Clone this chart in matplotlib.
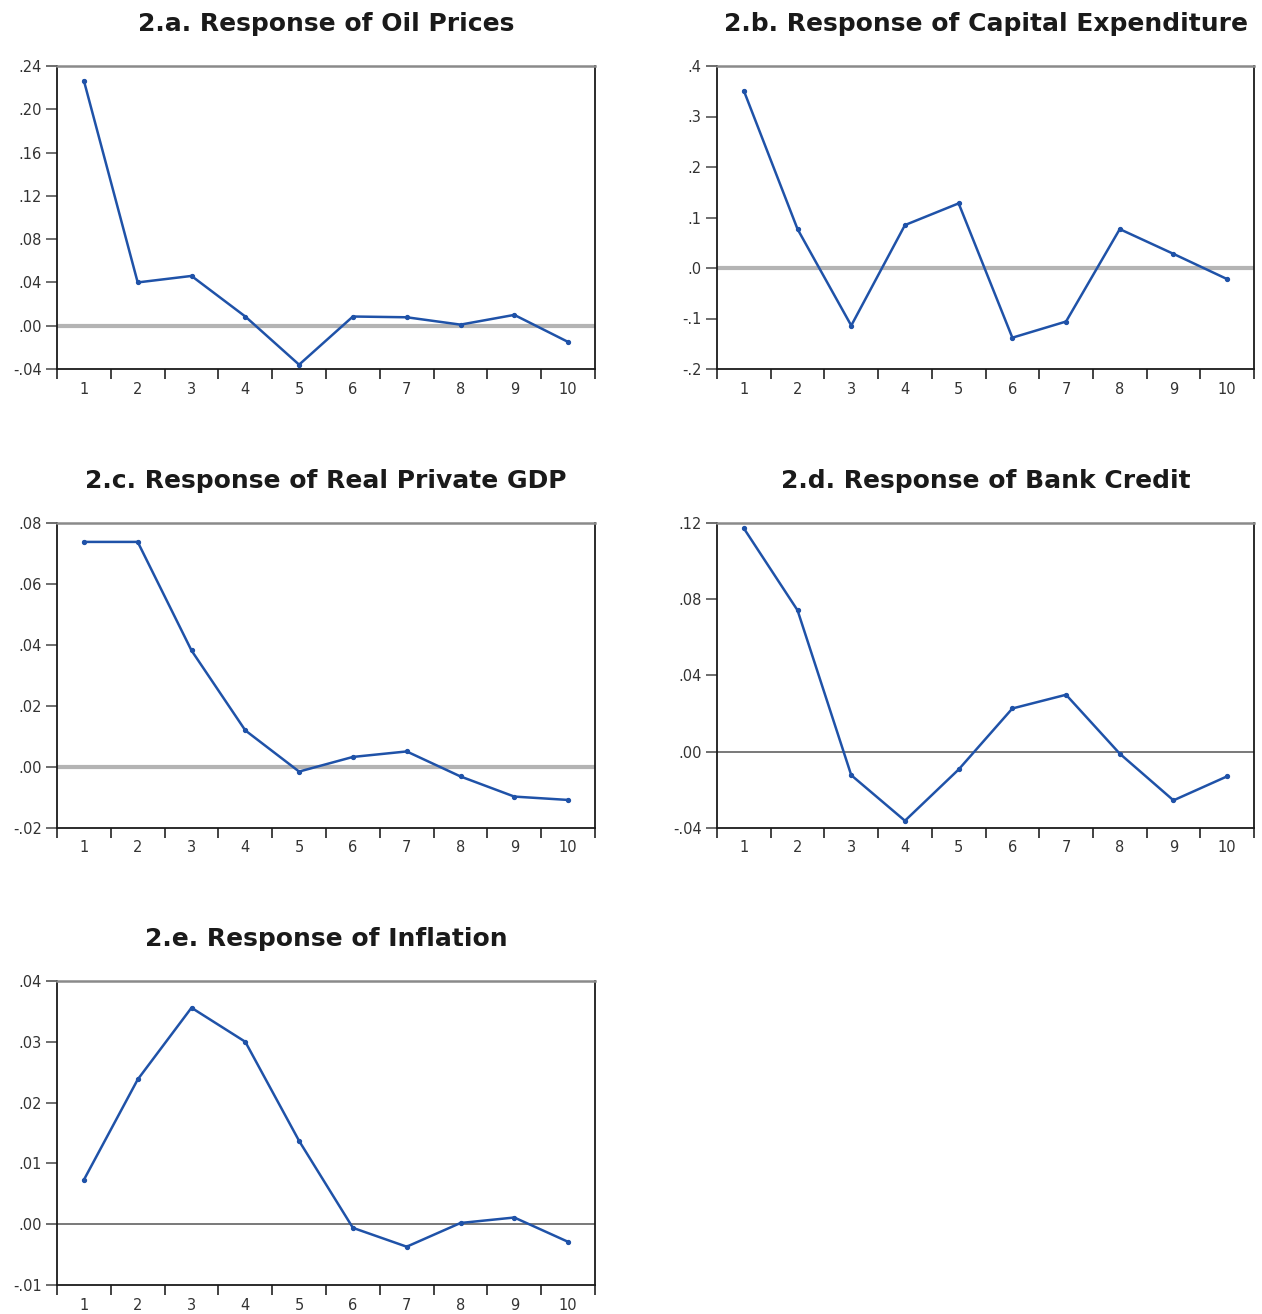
import numpy as np
import matplotlib
matplotlib.use('Agg')
import matplotlib.pyplot as plt
from matplotlib.ticker import FixedLocator

plt.rcParams['font.family'] = ['DejaVu Sans']

periods = [1, 2, 3, 4, 5, 6, 7, 8, 9, 10]

# impulse responses
oil_prices = [0.2264, 0.040, 0.046, 0.0085, -0.036, 0.0085, 0.0078, 0.001, 0.010, -0.015]
capital_exp = [0.351, 0.077, -0.114, 0.085, 0.128, -0.138, -0.106, 0.077, 0.028, -0.022]
private_gdp = [0.0738, 0.0738, 0.0382, 0.0120, -0.0015, 0.0033, 0.0051, -0.0031, -0.0097, -0.0108]
bank_credit = [0.1172, 0.0742, -0.0123, -0.0362, -0.0093, 0.0227, 0.0299, -0.0010, -0.0255, -0.0129]
inflation = [0.0073, 0.0238, 0.0356, 0.0300, 0.0137, -0.0006, -0.0037, 0.0002, 0.0011, -0.0029]

titles = ['2.a. Response of Oil Prices', '2.b. Response of Capital Expenditure',
          '2.c. Response of Real Private GDP', '2.d. Response of Bank Credit',
          '2.e. Response of Inflation']

yticks_a = [-0.04, 0.00, 0.04, 0.08, 0.12, 0.16, 0.20, 0.24]
ylabels_a = ['-.04', '.00', '.04', '.08', '.12', '.16', '.20', '.24']
yticks_b = [-0.2, -0.1, 0.0, 0.1, 0.2, 0.3, 0.4]
ylabels_b = ['-.2', '-.1', '.0', '.1', '.2', '.3', '.4']
yticks_c = [-0.02, 0.00, 0.02, 0.04, 0.06, 0.08]
ylabels_c = ['-.02', '.00', '.02', '.04', '.06', '.08']
yticks_d = [-0.04, 0.00, 0.04, 0.08, 0.12]
ylabels_d = ['-.04', '.00', '.04', '.08', '.12']
yticks_e = [-0.01, 0.00, 0.01, 0.02, 0.03, 0.04]
ylabels_e = ['-.01', '.00', '.01', '.02', '.03', '.04']

line_col = '#1f52a8'

fig = plt.figure(figsize=(12.62, 13.14), dpi=100)

W = 1262.0
H = 1314.0
def box(x0, y0, x1, y1):
    return [x0 / W, 1 - y1 / H, (x1 - x0) / W, (y1 - y0) / H]

panels = [
    (box(57, 66, 595, 369), oil_prices, yticks_a, ylabels_a, 'thick'),
    (box(717, 66, 1254, 369), capital_exp, yticks_b, ylabels_b, 'thick'),
    (box(57, 523, 595, 828), private_gdp, yticks_c, ylabels_c, 'thick'),
    (box(717, 523, 1254, 828), bank_credit, yticks_d, ylabels_d, 'thin'),
    (box(57, 981, 595, 1285), inflation, yticks_e, ylabels_e, 'thin'),
]

for (pos, vals, yt, yl, zstyle), title in zip(panels, titles):
    ax = fig.add_axes(pos)
    if zstyle == 'thick':
        ax.axhline(0, color='#b4b4b4', lw=3.0, zorder=1)
    else:
        ax.axhline(0, color='#6e6e6e', lw=1.3, zorder=1)
    ax.plot(periods, vals, color=line_col, lw=1.8, marker='o', ms=2.8, zorder=3)
    ax.set_xlim(0.5, 10.5)
    ax.set_ylim(yt[0], yt[-1])
    ax.set_yticks(yt)
    ax.set_yticklabels(yl)
    ax.set_xticks(periods)
    ax.set_xticklabels([str(p) for p in periods])
    ax.xaxis.set_minor_locator(FixedLocator(np.arange(0.5, 11, 1.0)))
    ax.tick_params(axis='x', which='major', length=0, pad=9, labelsize=10.5, labelcolor='#333333')
    ax.tick_params(axis='x', which='minor', length=7, width=1.2, color='#222222', direction='out')
    ax.tick_params(axis='y', length=8, width=1.2, color='#555555', direction='out', pad=3,
                   labelsize=10.5, labelcolor='#333333')
    for s in ['left', 'bottom', 'right']:
        ax.spines[s].set_color('#1a1a1a')
        ax.spines[s].set_linewidth(1.3)
    ax.spines['top'].set_color('#8a8a8a')
    ax.spines['top'].set_linewidth(1.8)
    ax.set_title(title, fontsize=18, fontweight='bold', pad=25, color='#1a1a1a')

fig.savefig('out.png', dpi=100)
